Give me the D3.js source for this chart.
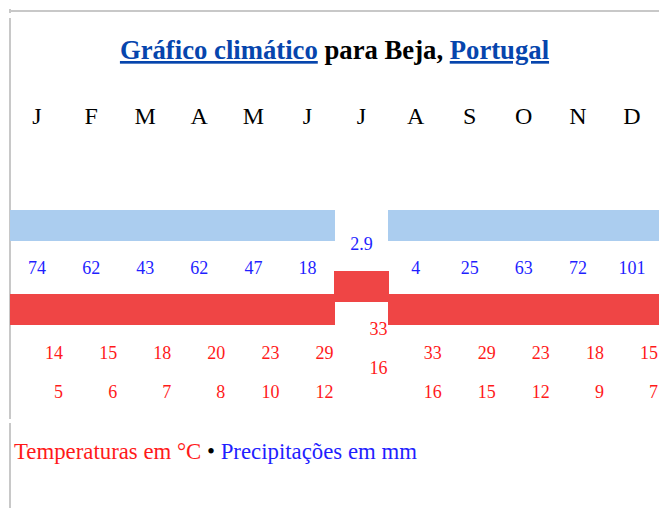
<!DOCTYPE html>
<html>
<head>
<meta charset="utf-8">
<script src="https://cdn.jsdelivr.net/npm/d3@7"></script>
<style>
  body { margin: 0; background: #fff; }
  svg text { font-family: "Liberation Serif", "Times New Roman", serif; white-space: pre; }
  svg rect { shape-rendering: crispEdges; }
</style>
</head>
<body>
<script>
// Dados do gráfico climático (Beja)
const months = ['J', 'F', 'M', 'A', 'M', 'J', 'J', 'A', 'S', 'O', 'N', 'D'];
const tempMax = [14, 15, 18, 20, 23, 29, 33, 33, 29, 23, 18, 15];
const tempMin = [5, 6, 7, 8, 10, 12, 16, 16, 15, 12, 9, 7];
const precip = [74, 62, 43, 62, 47, 18, 2.9, 4, 25, 63, 72, 101];

const width = 659, height = 508;
const colLeft = 10, colRight = 659;

const data = months.map((m, i) => ({
  i: i, month: m, tmax: tempMax[i], tmin: tempMin[i], prec: precip[i]
}));
// o mês mais seco aparece "deslocado"
const minPrec = d3.min(precip);
const dry = d => d.prec === minPrec;

const svg = d3.select('body').append('svg')
  .attr('width', width)
  .attr('height', height);

// Linhas cinzentas da moldura
svg.append('rect').attr('x', 9).attr('y', 10).attr('width', width - 9).attr('height', 2).attr('fill', '#c8c8c8');
svg.append('rect').attr('x', 9).attr('y', 9).attr('width', 2).attr('height', 4).attr('fill', '#c8c8c8');
svg.append('rect').attr('x', 9).attr('y', 18).attr('width', 2).attr('height', 401).attr('fill', '#c8c8c8');
svg.append('rect').attr('x', 9).attr('y', 423).attr('width', 2).attr('height', 85).attr('fill', '#c8c8c8');

// Escala das colunas
const x = d3.scaleBand()
  .domain(d3.range(months.length))
  .range([colLeft, colRight])
  .paddingInner(0);

// Título
const title = svg.append('text')
  .attr('x', (colLeft + colRight) / 2)
  .attr('y', 59)
  .attr('text-anchor', 'middle')
  .style('font-size', '26.7px')
  .style('font-weight', 'bold');
title.append('tspan').text('Gráfico climático').attr('fill', '#0645ad').style('text-decoration', 'underline');
title.append('tspan').text(' para Beja, ').attr('fill', '#000');
title.append('tspan').text('Portugal').attr('fill', '#0645ad').style('text-decoration', 'underline');

// Meses
svg.append('g').selectAll('text')
  .data(data)
  .enter()
  .append('text')
  .attr('x', d => x(d.i) + x.bandwidth() / 2)
  .attr('y', 124)
  .attr('text-anchor', 'middle')
  .style('font-size', '24px')
  .attr('fill', '#000')
  .text(d => d.month);

// Faixa de precipitação
svg.append('g').selectAll('rect')
  .data(data.filter(d => !dry(d)))
  .enter()
  .append('rect')
  .attr('x', d => Math.floor(x(d.i)))
  .attr('y', 210)
  .attr('width', x.bandwidth() + 1)
  .attr('height', 31)
  .attr('fill', '#abcdef');

// Faixa de temperatura
svg.append('g').selectAll('rect')
  .data(data)
  .enter()
  .append('rect')
  .attr('x', d => Math.floor(x(d.i)))
  .attr('y', d => dry(d) ? 271 : 294)
  .attr('width', x.bandwidth() + 1)
  .attr('height', 31)
  .attr('fill', '#ef4545');

// Valores de precipitação
svg.append('g').selectAll('text')
  .data(data)
  .enter()
  .append('text')
  .attr('x', d => x(d.i) + x.bandwidth() / 2)
  .attr('y', d => dry(d) ? 250 : 274)
  .attr('text-anchor', 'middle')
  .style('font-size', '18px')
  .attr('fill', '#1f1fff')
  .text(d => d.prec);

// Temperaturas máximas e mínimas
svg.append('g').selectAll('text')
  .data(data)
  .enter()
  .append('text')
  .attr('x', d => x(d.i) + x.bandwidth() - 1)
  .attr('y', d => dry(d) ? 335 : 359)
  .attr('text-anchor', 'end')
  .style('font-size', '18px')
  .attr('fill', '#ff1a1a')
  .text(d => d.tmax);

svg.append('g').selectAll('text')
  .data(data)
  .enter()
  .append('text')
  .attr('x', d => x(d.i) + x.bandwidth() - 1)
  .attr('y', d => dry(d) ? 374 : 398)
  .attr('text-anchor', 'end')
  .style('font-size', '18px')
  .attr('fill', '#ff1a1a')
  .text(d => d.tmin);

// Legenda
const legend = svg.append('text')
  .attr('x', 14)
  .attr('y', 459)
  .style('font-size', '22.8px');
legend.append('tspan').text('Temperaturas em °C').attr('fill', '#ff1a1a');
legend.append('tspan').text(' • ').attr('fill', '#000');
legend.append('tspan').text('Precipitações em mm').attr('fill', '#1f1fff');
</script>
</body>
</html>
